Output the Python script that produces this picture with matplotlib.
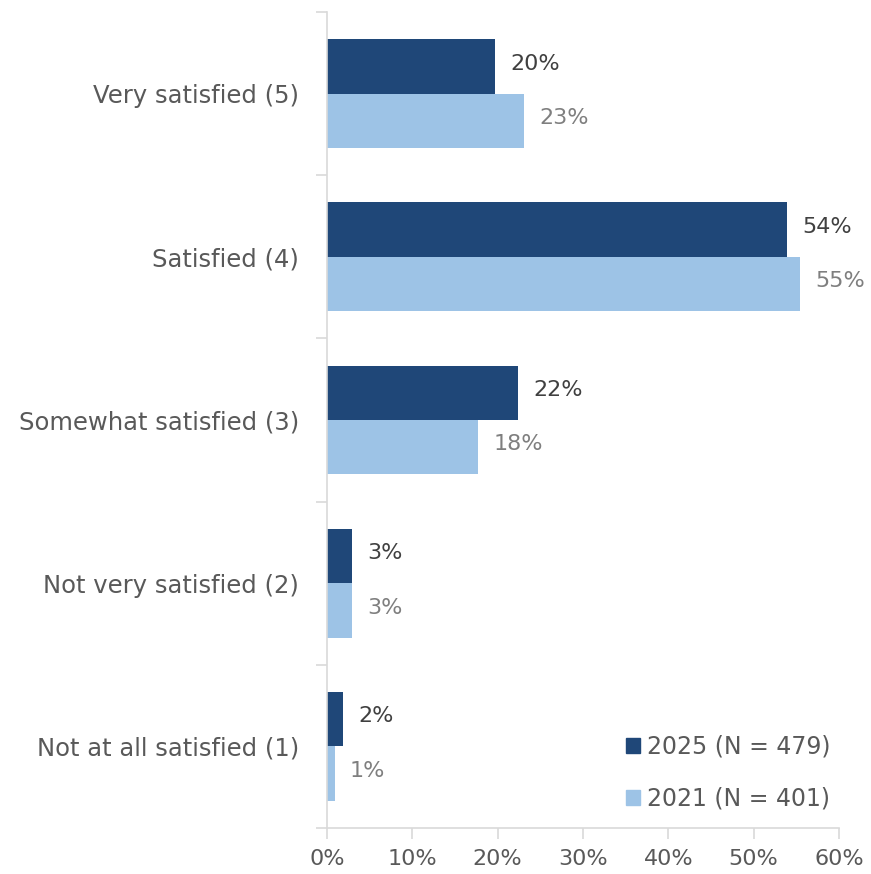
import matplotlib.pyplot as plt
import numpy as np
from matplotlib.patches import Patch

# Datos
categorias = ["Very satisfied (5)", "Satisfied (4)", "Somewhat satisfied (3)",
              "Not very satisfied (2)", "Not at all satisfied (1)"]
valores_2025 = [19.7, 53.9, 22.4, 2.9, 1.9]
valores_2021 = [23.1, 55.4, 17.7, 2.9, 0.9]
etiquetas_2025 = ["20%", "54%", "22%", "3%", "2%"]
etiquetas_2021 = ["23%", "55%", "18%", "3%", "1%"]
leyenda = ["2025 (N = 479)", "2021 (N = 401)"]

color_2025 = "#1F4778"
color_2021 = "#9DC3E6"
gris_eje = "#D9D9D9"

plt.rcParams['font.family'] = ['DejaVu Sans']

fig = plt.figure(figsize=(8.71, 8.74), dpi=100)
ax = fig.add_axes([327 / 871, 1 - 828 / 874, 512 / 871, 816 / 874])

y = np.arange(len(categorias))
alto = 1 / 3

ax.barh(y - alto / 2, valores_2025, height=alto, color=color_2025)
ax.barh(y + alto / 2, valores_2021, height=alto, color=color_2021)

for yi, v, t in zip(y, valores_2025, etiquetas_2025):
    ax.annotate(t, (v, yi - alto / 2), xytext=(11, 2), textcoords="offset points",
                va="center", ha="left", fontsize=16, color="#404040")
for yi, v, t in zip(y, valores_2021, etiquetas_2021):
    ax.annotate(t, (v, yi + alto / 2), xytext=(11, 2), textcoords="offset points",
                va="center", ha="left", fontsize=16, color="#7F7F7F")

ax.set_xlim(0, 60)
ax.set_ylim(len(categorias) - 0.5, -0.5)
ax.set_xticks(np.arange(0, 61, 10))
ax.set_xticklabels([f"{v}%" for v in range(0, 61, 10)])
ax.set_yticks(y)
ax.set_yticklabels(categorias)
ax.set_yticks(np.arange(-0.5, len(categorias), 1), minor=True)

for s in ["top", "right"]:
    ax.spines[s].set_visible(False)
for s in ["left", "bottom"]:
    ax.spines[s].set_color(gris_eje)
    ax.spines[s].set_linewidth(1.2)

ax.tick_params(axis="y", which="major", length=0, pad=20, labelsize=17.5, labelcolor="#595959")
ax.tick_params(axis="y", which="minor", length=8, color=gris_eje, width=1.2)
ax.tick_params(axis="x", which="major", length=8, color=gris_eje, width=1.2,
               labelsize=16, labelcolor="#595959", pad=7)

handles = [Patch(color=color_2025), Patch(color=color_2021)]
leg = ax.legend(handles, leyenda, loc="lower right", bbox_to_anchor=(1.025, -0.005),
                frameon=False, fontsize=17, handlelength=0.6, handleheight=0.6,
                labelspacing=1.2, handletextpad=0.3)
for t in leg.get_texts():
    t.set_color("#595959")

plt.savefig("out.png", dpi=100)
